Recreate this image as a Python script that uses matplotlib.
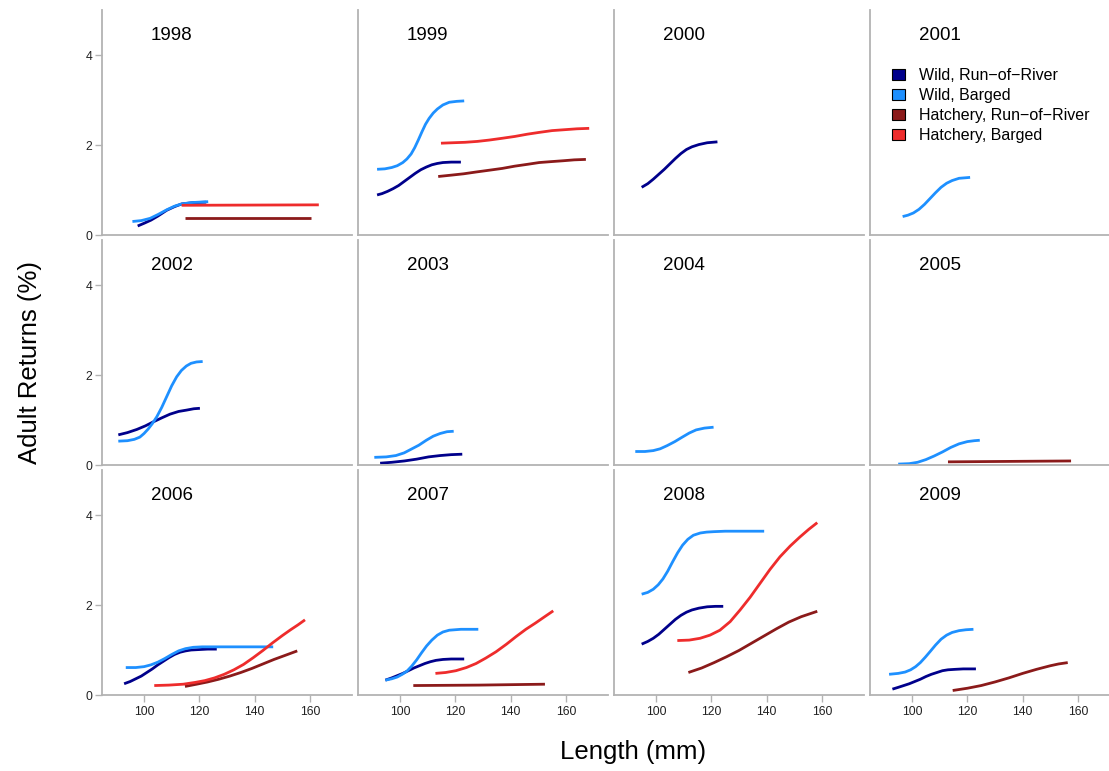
import matplotlib
matplotlib.use("Agg")
import matplotlib.pyplot as plt
from matplotlib.patches import Patch

plt.rcParams['font.family'] = ['Liberation Sans', 'DejaVu Sans']

years = [1998, 1999, 2000, 2001, 2002, 2003, 2004, 2005, 2006, 2007, 2008, 2009]

series_labels = ["Wild, Run\u2212of\u2212River", "Wild, Barged",
                 "Hatchery, Run\u2212of\u2212River", "Hatchery, Barged"]
series_colors = ["#00008B", "#1E90FF", "#8B1A1A", "#EE2C2C"]

# Fitted return curves per year: (length mm, adult returns %)
wild_ror = {
    1998: ([97.7, 100.0, 102.5, 105.0, 108.2, 111.0, 113.6, 118.0, 122.5],
           [0.20, 0.26, 0.33, 0.42, 0.55, 0.63, 0.69, 0.72, 0.73]),
    1999: ([91.7, 93.5, 95.5, 97.5, 99.5, 101.5, 103.5, 105.5, 107.5, 109.5, 111.5, 113.5, 115.5, 118.5, 122.0],
           [0.89, 0.92, 0.97, 1.03, 1.10, 1.19, 1.28, 1.37, 1.45, 1.51, 1.56, 1.59, 1.61, 1.62, 1.62]),
    2000: ([94.8, 97.0, 99.0, 101.0, 103.0, 105.0, 107.0, 109.0, 111.0, 113.0, 115.5, 118.5, 122.2],
           [1.06, 1.14, 1.24, 1.35, 1.46, 1.58, 1.70, 1.81, 1.90, 1.96, 2.01, 2.05, 2.07]),
    2002: ([90.7, 94.0, 97.4, 100.5, 103.4, 106.5, 109.4, 112.5, 115.4, 118.0, 120.2],
           [0.67, 0.72, 0.79, 0.87, 0.96, 1.05, 1.13, 1.19, 1.22, 1.25, 1.26]),
    2003: ([92.8, 97.0, 101.6, 106.0, 110.3, 114.5, 118.5, 122.5],
           [0.04, 0.06, 0.09, 0.13, 0.18, 0.21, 0.23, 0.24]),
    2006: ([92.8, 95.0, 97.0, 99.0, 101.0, 103.0, 105.0, 107.0, 109.0, 111.0, 113.0, 115.0, 117.0, 120.0, 123.0, 126.3],
           [0.25, 0.30, 0.36, 0.42, 0.50, 0.58, 0.67, 0.75, 0.83, 0.90, 0.95, 0.98, 1.00, 1.01, 1.02, 1.02]),
    2007: ([94.7, 97.0, 99.0, 101.0, 103.0, 105.0, 107.0, 109.0, 111.0, 113.0, 115.5, 118.5, 123.2],
           [0.33, 0.38, 0.43, 0.48, 0.54, 0.60, 0.65, 0.70, 0.74, 0.77, 0.79, 0.80, 0.80]),
    2008: ([94.8, 97.0, 99.0, 101.0, 103.0, 105.0, 107.0, 109.0, 111.0, 113.0, 115.5, 118.5, 121.5, 124.3],
           [1.13, 1.19, 1.26, 1.35, 1.46, 1.57, 1.68, 1.77, 1.84, 1.89, 1.93, 1.96, 1.97, 1.97]),
    2009: ([92.9, 95.0, 97.0, 99.0, 101.0, 103.0, 105.0, 107.0, 109.0, 111.0, 113.0, 115.5, 118.5, 123.1],
           [0.13, 0.17, 0.21, 0.25, 0.30, 0.35, 0.41, 0.46, 0.50, 0.54, 0.56, 0.57, 0.58, 0.58]),
}

wild_barged = {
    1998: ([95.8, 99.0, 102.2, 105.2, 108.2, 111.0, 113.6, 117.0, 120.0, 123.2],
           [0.30, 0.32, 0.37, 0.46, 0.56, 0.64, 0.69, 0.72, 0.73, 0.74]),
    1999: ([91.7, 94.5, 97.0, 99.0, 101.0, 102.5, 104.0, 105.3, 106.6, 107.9, 109.2, 110.5, 112.0, 113.5, 115.5, 117.8, 120.5, 123.2],
           [1.46, 1.47, 1.50, 1.54, 1.61, 1.69, 1.80, 1.94, 2.11, 2.29, 2.46, 2.59, 2.71, 2.80, 2.89, 2.95, 2.97, 2.98]),
    2001: ([96.6, 98.5, 100.5, 102.5, 104.5, 106.5, 108.5, 110.5, 112.5, 114.5, 117.0, 121.0],
           [0.41, 0.44, 0.49, 0.57, 0.68, 0.81, 0.94, 1.06, 1.15, 1.21, 1.26, 1.28]),
    2002: ([90.7, 94.0, 96.5, 98.5, 100.0, 101.5, 103.0, 104.6, 106.4, 108.2, 110.0, 111.8, 113.5, 115.3, 117.0, 119.0, 121.2],
           [0.53, 0.54, 0.57, 0.62, 0.70, 0.80, 0.92, 1.07, 1.28, 1.52, 1.76, 1.96, 2.10, 2.20, 2.26, 2.29, 2.30]),
    2003: ([90.7, 95.0, 98.5, 101.5, 104.0, 106.8, 109.5, 112.0, 114.5, 117.0, 119.4],
           [0.17, 0.18, 0.21, 0.27, 0.35, 0.44, 0.55, 0.64, 0.70, 0.74, 0.75]),
    2004: ([92.5, 96.0, 99.0, 101.5, 104.0, 106.8, 109.5, 112.0, 114.5, 117.5, 120.8],
           [0.30, 0.30, 0.32, 0.36, 0.43, 0.52, 0.62, 0.71, 0.78, 0.82, 0.84]),
    2005: ([95.0, 99.0, 102.0, 105.0, 108.0, 111.0, 114.0, 117.0, 120.0, 122.5, 124.5],
           [0.02, 0.03, 0.06, 0.12, 0.20, 0.29, 0.39, 0.47, 0.52, 0.54, 0.55]),
    2006: ([93.4, 97.0, 100.0, 102.5, 105.0, 107.5, 110.0, 112.5, 115.0, 117.8, 121.0, 126.3, 135.0, 146.7],
           [0.61, 0.61, 0.63, 0.67, 0.73, 0.81, 0.90, 0.98, 1.03, 1.06, 1.07, 1.07, 1.07, 1.07]),
    2007: ([94.7, 97.0, 99.0, 100.8, 102.5, 104.2, 106.0, 107.8, 109.6, 111.5, 113.5, 115.5, 117.8, 122.0, 128.3],
           [0.33, 0.36, 0.40, 0.46, 0.53, 0.64, 0.78, 0.94, 1.09, 1.22, 1.33, 1.40, 1.44, 1.46, 1.46]),
    2008: ([94.8, 97.0, 99.0, 100.8, 102.5, 104.2, 106.0, 107.8, 109.6, 111.5, 113.5, 116.0, 118.3, 121.0, 125.0, 130.0, 139.1],
           [2.24, 2.28, 2.35, 2.45, 2.58, 2.75, 2.96, 3.16, 3.33, 3.46, 3.55, 3.60, 3.62, 3.63, 3.64, 3.64, 3.64]),
    2009: ([91.7, 95.0, 97.5, 99.5, 101.3, 103.0, 104.8, 106.6, 108.5, 110.5, 112.5, 114.5, 117.0, 119.5, 122.2],
           [0.46, 0.48, 0.51, 0.56, 0.63, 0.72, 0.84, 0.97, 1.11, 1.24, 1.33, 1.39, 1.43, 1.45, 1.46]),
}

hatchery_ror = {
    1998: ([114.8, 160.4], [0.38, 0.38]),
    1999: ([113.8, 118.5, 123.0, 127.5, 132.3, 137.0, 141.5, 146.0, 150.3, 154.5, 159.0, 163.0, 167.2],
           [1.30, 1.33, 1.36, 1.40, 1.44, 1.48, 1.53, 1.57, 1.61, 1.63, 1.65, 1.67, 1.68]),
    2005: ([113.0, 135.0, 157.5], [0.07, 0.08, 0.09]),
    2006: ([114.8, 119.0, 123.0, 127.0, 131.0, 135.0, 139.0, 143.0, 147.0, 151.0, 155.4],
           [0.19, 0.24, 0.29, 0.35, 0.42, 0.50, 0.59, 0.69, 0.79, 0.88, 0.98]),
    2007: ([104.8, 128.5, 152.4], [0.21, 0.22, 0.24]),
    2008: ([111.7, 116.5, 121.0, 125.5, 130.0, 134.5, 139.0, 143.5, 148.0, 152.5, 158.3],
           [0.50, 0.60, 0.72, 0.85, 0.99, 1.15, 1.31, 1.47, 1.62, 1.74, 1.86]),
    2009: ([114.7, 120.0, 125.0, 130.0, 135.0, 140.0, 145.0, 150.0, 153.0, 156.3],
           [0.10, 0.15, 0.21, 0.29, 0.38, 0.48, 0.57, 0.65, 0.69, 0.72]),
}

hatchery_barged = {
    1998: ([113.6, 163.2], [0.66, 0.67]),
    1999: ([114.8, 119.0, 123.5, 128.0, 132.3, 137.0, 141.5, 146.0, 150.3, 155.0, 159.5, 164.0, 168.4],
           [2.04, 2.05, 2.06, 2.08, 2.11, 2.15, 2.19, 2.24, 2.28, 2.32, 2.34, 2.36, 2.37]),
    2006: ([103.7, 109.0, 114.2, 118.5, 122.0, 125.5, 129.0, 132.5, 136.0, 139.5, 143.0, 146.5, 150.0, 153.0, 155.7, 158.2],
           [0.21, 0.22, 0.24, 0.28, 0.32, 0.38, 0.46, 0.56, 0.68, 0.83, 0.99, 1.16, 1.32, 1.45, 1.56, 1.67]),
    2007: ([112.8, 116.5, 120.2, 124.0, 127.5, 131.0, 134.7, 138.5, 142.0, 145.5, 149.0, 152.3, 155.4],
           [0.48, 0.50, 0.54, 0.61, 0.70, 0.82, 0.96, 1.13, 1.30, 1.46, 1.60, 1.74, 1.87]),
    2008: ([107.7, 112.0, 115.9, 119.5, 123.1, 126.8, 130.4, 134.0, 137.6, 141.2, 144.8, 148.5, 152.0, 155.2, 158.3],
           [1.21, 1.22, 1.26, 1.33, 1.44, 1.63, 1.89, 2.17, 2.48, 2.79, 3.07, 3.31, 3.51, 3.68, 3.83]),
}

all_series = [wild_ror, wild_barged, hatchery_ror, hatchery_barged]

x_ticks = [100, 120, 140, 160]
y_ticks = [0, 2, 4]

W, H = 1109, 771
fig = plt.figure(figsize=(W / 100, H / 100), dpi=100)

axis_grey = "#b3b3b3"
panel_w, panel_h = 250, 225
axes = []
for i, year in enumerate(years):
    r, c = divmod(i, 4)
    left = 102 + 256 * c
    top = 10 + 230 * r
    ax = fig.add_axes([left / W, 1 - (top + panel_h) / H, panel_w / W, panel_h / H])
    ax.set_xlim(84.8, 175.2)
    ax.set_ylim(0, 5.0)
    for s in ("top", "right"):
        ax.spines[s].set_visible(False)
    for s in ("left", "bottom"):
        ax.spines[s].set_color(axis_grey)
        ax.spines[s].set_linewidth(1.3)
    ax.tick_params(colors=axis_grey, labelcolor="#222222", labelsize=8.8,
                   length=5, width=1.0)
    if c == 0:
        ax.set_yticks(y_ticks)
        ax.tick_params(axis="y", pad=2)
    else:
        ax.set_yticks([])
    if r == 2:
        ax.set_xticks(x_ticks)
        ax.tick_params(axis="x", pad=3)
    else:
        ax.set_xticks([])

    for data, color in zip(all_series, series_colors):
        if year in data:
            xs, ys = data[year]
            ax.plot(xs, ys, color=color, lw=2.0, solid_capstyle="butt",
                    solid_joinstyle="round")

    ax.text(110, 4.44, str(year), ha="center", va="center", fontsize=13.5,
            color="black")
    axes.append(ax)

handles = [Patch(facecolor=col, edgecolor="black", linewidth=0.8)
           for col in series_colors]
axes[3].legend(handles, series_labels, loc="upper left",
               bbox_to_anchor=(892 / W, 1 - 68 / H),
               bbox_transform=fig.transFigure, frameon=False,
               fontsize=11.5, handlelength=0.8, handleheight=0.67,
               handletextpad=0.9, labelspacing=0.32, borderpad=0,
               borderaxespad=0)

fig.text(633 / W, 1 - 752 / H, "Length (mm)", ha="center", va="center",
         fontsize=18.5)
fig.text(30 / W, 1 - 362 / H, "Adult Returns (%)", ha="center", va="center",
         rotation=90, fontsize=18.5)

fig.savefig("out.png", dpi=100)
